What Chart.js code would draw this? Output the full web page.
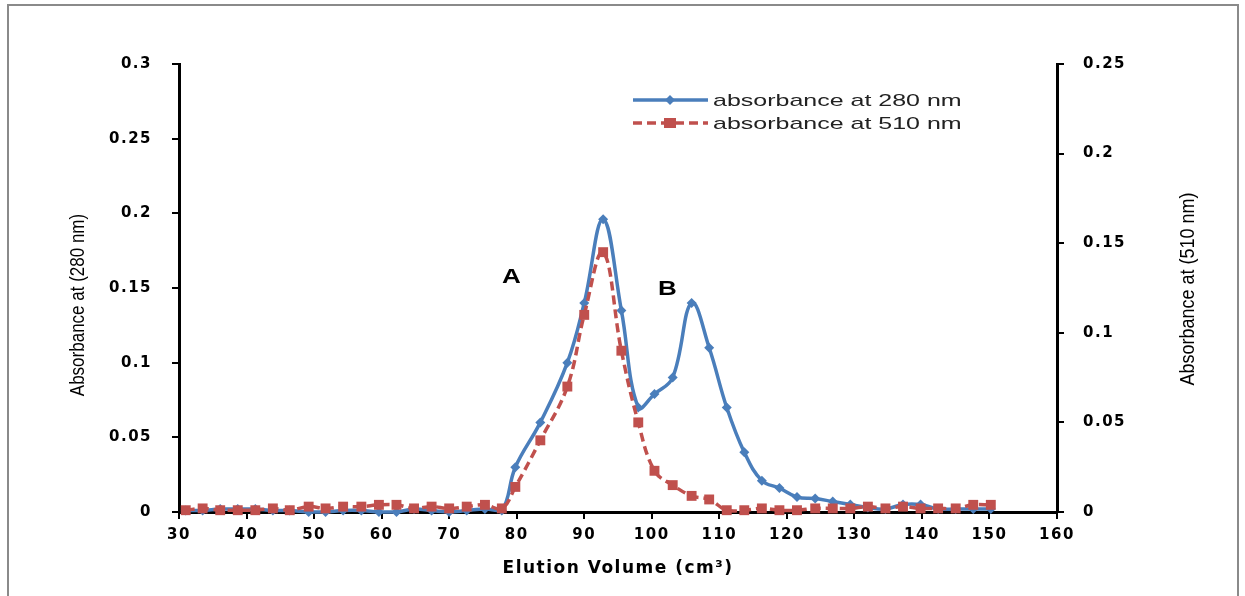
<!DOCTYPE html>
<html>
<head>
<meta charset="utf-8">
<script src="https://cdn.jsdelivr.net/npm/chart.js@4.4.1/dist/chart.umd.min.js"></script>
<style>
html, body { margin: 0; padding: 0; background: #fff; overflow: hidden; }
#wrap { position: relative; width: 1245px; height: 596px; }
#frame { position: absolute; left: 7px; top: 4px; width: 1228px; height: 640px; border: 2px solid #8a8a8a; pointer-events: none; }
</style>
</head>
<body>
<div id="wrap">
  <canvas id="chart" width="1245" height="596"></canvas>
  <div id="frame"></div>
</div>
<script>
// Elution volumes (cm3) of the collected fractions
const volumes = [31, 33.5, 36.1, 38.7, 41.3, 43.9, 46.4, 49.2, 51.7, 54.3, 57, 59.6, 62.2, 64.8, 67.4, 70, 72.6, 75.3, 77.8,
    79.8, 83.5, 87.5, 90, 92.8, 95.5, 98, 100.4, 103.1, 105.9, 108.5, 111.1, 113.7, 116.3, 118.9, 121.5, 124.2, 126.8,
    129.4, 132, 134.6, 137.2, 139.8, 142.4, 145, 147.6, 150.2];

// absorbance at 280 nm (left axis)
const abs280 = [0.001, 0.001, 0.002, 0.002, 0.002, 0.001, 0.001, 0, 0, 0.001, 0.001, 0, 0, 0.002, 0.001, 0, 0.001, 0.002, 0.001,
    0.03, 0.06, 0.1, 0.14, 0.196, 0.135, 0.07, 0.079, 0.09, 0.14, 0.11, 0.07, 0.04, 0.021, 0.016, 0.01, 0.009, 0.007,
    0.005, 0.003, 0.002, 0.005, 0.005, 0.002, 0.002, 0.002, 0.002];

// absorbance at 510 nm (right axis)
const abs510 = [0.001, 0.002, 0.001, 0.001, 0.001, 0.002, 0.001, 0.003, 0.002, 0.003, 0.003, 0.004, 0.004, 0.002, 0.003, 0.002, 0.003, 0.004, 0.002,
    0.014, 0.04, 0.07, 0.11, 0.145, 0.09, 0.05, 0.023, 0.015, 0.009, 0.007, 0.001, 0.001, 0.002, 0.001, 0.001, 0.002, 0.002,
    0.002, 0.003, 0.002, 0.003, 0.002, 0.002, 0.002, 0.004, 0.004];

// tick labels
const xTicks = ['30', '40', '50', '60', '70', '80', '90', '100', '110', '120', '130', '140', '150', '160'];
const leftTicks = ['0', '0.05', '0.1', '0.15', '0.2', '0.25', '0.3'];
const rightTicks = ['0', '0.05', '0.1', '0.15', '0.2', '0.25'];

// peak labels, placed in data units
const peakLabels = ['A', 'B'];
const peakX = [79.2, 102.3];
const peakY = [0.157, 0.149];

const seriesNames = ['absorbance at 280 nm', 'absorbance at 510 nm'];
const axisTitles = ['Absorbance at (280 nm)', 'Absorbance at (510 nm)'];

const BLUE = '#4a7ebb';
const RED = '#c0504d';

const pick = (list) => (v) => list.find(t => Math.abs(parseFloat(t) - v) < 1e-6) || '';

const tickFont = { family: 'DejaVu Sans', weight: 'bold', size: 15 };

// the original figure is stretched sideways, so spread the axis text a little
const spacing = {
    id: 'spacing',
    beforeUpdate(chart) { chart.ctx.letterSpacing = '1.5px'; },
    beforeDraw(chart) { chart.ctx.letterSpacing = '1.5px'; }
};

// peak letters, side titles and legend drawn inside the figure
const overlay = {
    id: 'overlay',
    afterDraw(chart) {
        const ctx = chart.ctx;
        const xs = chart.scales.x, ys = chart.scales.y;
        ctx.save();
        ctx.letterSpacing = '0px';
        ctx.fillStyle = '#000';
        ctx.font = 'bold 20px "Liberation Sans", Arial, sans-serif';
        ctx.textAlign = 'center';
        ctx.textBaseline = 'middle';
        peakLabels.forEach((t, i) => {
            ctx.save();
            ctx.translate(xs.getPixelForValue(peakX[i]), ys.getPixelForValue(peakY[i]));
            ctx.scale(1.3, 1);
            ctx.fillText(t, 0, 0);
            ctx.restore();
        });

        // rotated axis titles, condensed like the original
        ctx.font = '20px "Liberation Sans", Arial, sans-serif';
        ctx.save();
        ctx.translate(78, 305);
        ctx.rotate(-Math.PI / 2);
        ctx.scale(0.85, 1);
        ctx.fillText(axisTitles[0], 0, 0);
        ctx.restore();
        ctx.save();
        ctx.translate(1188, 289);
        ctx.rotate(-Math.PI / 2);
        ctx.scale(0.9, 1);
        ctx.fillText(axisTitles[1], 0, 0);
        ctx.restore();

        // legend
        const colors = [BLUE, RED];
        seriesNames.forEach((name, i) => {
            const y = 100 + i * 23;
            ctx.strokeStyle = colors[i];
            ctx.lineWidth = 3.5;
            ctx.setLineDash(i === 1 ? [9, 5] : []);
            ctx.beginPath();
            ctx.moveTo(633, y);
            ctx.lineTo(708, y);
            ctx.stroke();
            ctx.setLineDash([]);
            ctx.fillStyle = colors[i];
            if (i === 0) {
                ctx.beginPath();
                ctx.moveTo(670, y - 5); ctx.lineTo(675, y); ctx.lineTo(670, y + 5); ctx.lineTo(665, y);
                ctx.closePath();
                ctx.fill();
            } else {
                ctx.fillRect(664, y - 5, 12, 10);
            }
            ctx.save();
            ctx.translate(713, y);
            ctx.scale(1.47, 1);
            ctx.fillStyle = '#222';
            ctx.font = '17px "Liberation Sans", Arial, sans-serif';
            ctx.textAlign = 'left';
            ctx.textBaseline = 'middle';
            ctx.fillText(name, 0, 1);
            ctx.restore();
        });
        ctx.restore();
    }
};

const ctx = document.getElementById('chart').getContext('2d');
const chart = new Chart(ctx, {
    type: 'line',
    data: {
        datasets: [{
            label: seriesNames[0],
            data: volumes.map((v, i) => ({ x: v, y: abs280[i] })),
            yAxisID: 'y',
            borderColor: BLUE,
            backgroundColor: BLUE,
            borderWidth: 3.5,
            tension: 0.4,
            pointStyle: 'rectRot',
            pointRadius: 5,
            pointBorderWidth: 0,
            clip: false,
            order: 2
        }, {
            label: seriesNames[1],
            data: volumes.map((v, i) => ({ x: v, y: abs510[i] })),
            yAxisID: 'y2',
            borderColor: RED,
            backgroundColor: RED,
            borderWidth: 3.5,
            borderDash: [9, 5],
            tension: 0.4,
            pointStyle: 'rect',
            pointRadius: 7,
            pointBorderWidth: 0,
            clip: false,
            order: 1
        }]
    },
    options: {
        responsive: false,
        animation: false,
        layout: { padding: { top: 64, left: 0, right: 0, bottom: 0 } },
        plugins: { legend: { display: false }, tooltip: { enabled: false } },
        scales: {
            x: {
                type: 'linear',
                min: 30, max: 160,
                ticks: { stepSize: 10, color: '#000', font: tickFont, padding: 7, callback: pick(xTicks), maxRotation: 0 },
                grid: { drawOnChartArea: false, color: '#000', lineWidth: 2, tickLength: 7 },
                border: { color: '#000', width: 3 },
                title: { display: true, text: 'Elution Volume (cm³)', color: '#000',
                    font: { family: 'DejaVu Sans', weight: 'bold', size: 17 }, padding: { top: 0, bottom: 17 } },
                afterFit: s => { s.height = 84; }
            },
            y: {
                position: 'left',
                min: 0, max: 0.3,
                ticks: { stepSize: 0.05, color: '#000', font: tickFont, padding: 20, callback: pick(leftTicks) },
                grid: { drawOnChartArea: false, color: '#000', lineWidth: 2, tickLength: 7 },
                border: { color: '#000', width: 3 },
                afterFit: s => { s.width = 179; }
            },
            y2: {
                position: 'right',
                min: 0, max: 0.25,
                ticks: { stepSize: 0.05, color: '#000', font: tickFont, padding: 19, callback: pick(rightTicks) },
                grid: { drawOnChartArea: false, color: '#000', lineWidth: 2, tickLength: 7 },
                border: { color: '#000', width: 3 },
                afterFit: s => { s.width = 188; }
            }
        }
    },
    plugins: [spacing, overlay]
});
</script>
</body>
</html>
